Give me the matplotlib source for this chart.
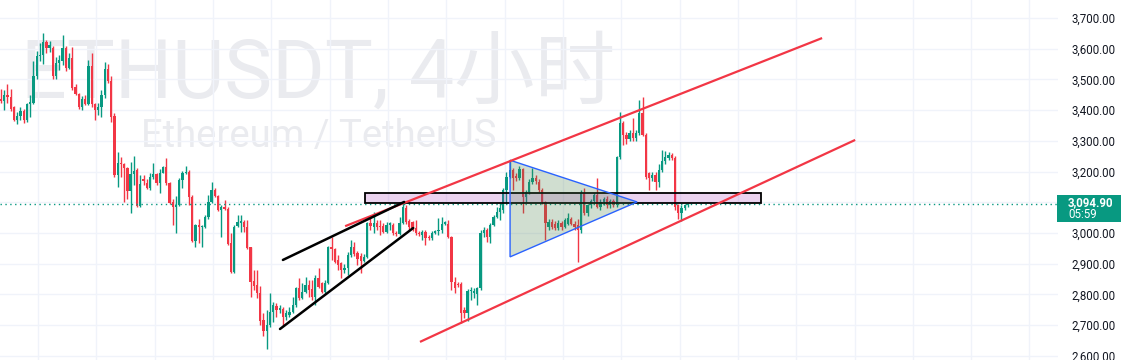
import numpy as np
import matplotlib
matplotlib.use("Agg")
import matplotlib.pyplot as plt
from matplotlib.patches import Rectangle, Polygon

# ETHUSDT 4h candles (open / high / low / close)
opens = [
    3438, 3430, 3449, 3443, 3410, 3368, 3382, 3398, 3368, 3420,
    3423, 3511, 3576, 3580, 3621, 3604, 3604, 3511, 3553, 3561,
    3602, 3536, 3569, 3476, 3452, 3411, 3436, 3420, 3544, 3420,
    3400, 3409, 3449, 3533, 3496, 3381, 3189, 3227, 3224, 3211,
    3138, 3192, 3205, 3088, 3175, 3164, 3145, 3183, 3192, 3162,
    3196, 3214, 3162, 3102, 3085, 3092, 3172, 3196, 3200, 3118,
    2975, 3026, 3018, 3018, 3051, 3102, 3140, 3120, 3075, 3085,
    3078, 2967, 2873, 3022, 3033, 3036, 3020, 2954, 2843, 2830,
    2804, 2716, 2680, 2700, 2742, 2762, 2749, 2752, 2726, 2733,
    2742, 2765, 2820, 2788, 2808, 2830, 2816, 2791, 2853, 2837,
    2808, 2837, 2954, 2948, 2912, 2902, 2879, 2885, 2928, 2955,
    2935, 2925, 2908, 2921, 3031, 3020, 3033, 3022, 3022, 3004,
    3026, 3026, 3001, 2996, 3031, 3080, 3040, 3036, 3015, 3001,
    2993, 3004, 2988, 2983, 3001, 3005, 3010, 3030, 3029, 2987,
    2840, 2835, 2835, 2749, 2738, 2810, 2805, 2800, 2820, 2999,
    3008, 2986, 3026, 3052, 3068, 3075, 3140, 3182, 3205, 3185,
    3178, 3208, 3116, 3134, 3166, 3179, 3166, 3140, 3101, 3020,
    3036, 3030, 3015, 3033, 3020, 3030, 3045, 3030, 3025, 3010,
    3130, 3065, 3090, 3105, 3125, 3085, 3100, 3112, 3090, 3105,
    3092, 3247, 3358, 3319, 3305, 3325, 3310, 3325, 3390, 3320,
    3195, 3178, 3190, 3165, 3205, 3235, 3245, 3255, 3245, 3090,
    3065, 3080, 3090,
]
highs = [
    3468, 3465, 3485, 3468, 3412, 3395, 3409, 3405, 3423, 3449,
    3561, 3594, 3618, 3653, 3628, 3625, 3610, 3573, 3579, 3646,
    3610, 3585, 3607, 3485, 3455, 3446, 3449, 3565, 3585, 3422,
    3422, 3465, 3558, 3550, 3510, 3390, 3265, 3248, 3227, 3214,
    3232, 3250, 3210, 3189, 3189, 3176, 3195, 3227, 3195, 3207,
    3218, 3243, 3165, 3110, 3120, 3178, 3203, 3218, 3205, 3122,
    3029, 3044, 3026, 3060, 3124, 3167, 3145, 3124, 3092, 3107,
    3085, 3000, 3026, 3058, 3058, 3042, 3042, 2955, 2879, 2879,
    2827, 2738, 2749, 2803, 2776, 2771, 2765, 2760, 2749, 2760,
    2792, 2825, 2852, 2836, 2857, 2847, 2847, 2863, 2885, 2841,
    2847, 2958, 2988, 2950, 2928, 2905, 2900, 2939, 2977, 2971,
    2940, 2935, 2930, 3036, 3053, 3069, 3042, 3042, 3033, 3036,
    3036, 3033, 3005, 3053, 3102, 3090, 3045, 3040, 3042, 3005,
    3010, 3010, 2992, 3005, 3010, 3048, 3051, 3040, 3042, 2990,
    2855, 2840, 2841, 2760, 2818, 2824, 2820, 2824, 3010, 3020,
    3016, 3033, 3058, 3085, 3097, 3145, 3199, 3237, 3211, 3195,
    3218, 3212, 3140, 3175, 3211, 3190, 3175, 3145, 3105, 3045,
    3045, 3040, 3042, 3040, 3050, 3065, 3052, 3040, 3045, 3140,
    3145, 3095, 3112, 3130, 3180, 3110, 3118, 3120, 3112, 3110,
    3250, 3394, 3365, 3330, 3335, 3374, 3335, 3433, 3443, 3325,
    3200, 3200, 3198, 3225, 3270, 3268, 3265, 3262, 3250, 3095,
    3090, 3095, 3098,
]
lows = [
    3425, 3400, 3423, 3398, 3366, 3354, 3368, 3358, 3362, 3378,
    3420, 3500, 3561, 3552, 3585, 3590, 3500, 3502, 3531, 3547,
    3528, 3534, 3465, 3448, 3403, 3400, 3417, 3417, 3409, 3368,
    3384, 3377, 3440, 3490, 3362, 3183, 3150, 3183, 3102, 3110,
    3066, 3156, 3085, 3083, 3156, 3142, 3140, 3175, 3156, 3129,
    3194, 3156, 3094, 3026, 3001, 3088, 3145, 3192, 3091, 2971,
    2955, 2966, 2955, 3015, 3045, 3098, 3117, 3070, 2988, 3075,
    2961, 2869, 2868, 3020, 3004, 3004, 2947, 2792, 2814, 2787,
    2700, 2664, 2621, 2695, 2711, 2727, 2740, 2697, 2716, 2727,
    2738, 2760, 2782, 2784, 2805, 2792, 2782, 2765, 2820, 2804,
    2804, 2834, 2912, 2901, 2879, 2852, 2870, 2863, 2920, 2925,
    2895, 2870, 2905, 2918, 3010, 2999, 3010, 2993, 2999, 2999,
    3010, 2993, 2990, 2993, 3028, 3030, 3010, 3006, 2993, 2990,
    2977, 2961, 2978, 2977, 2998, 2993, 3000, 3025, 2985, 2815,
    2805, 2825, 2708, 2722, 2712, 2782, 2788, 2765, 2815, 2988,
    2971, 2966, 3023, 3048, 3042, 3064, 3096, 3178, 3140, 3170,
    3172, 3065, 3100, 3128, 3160, 3160, 3135, 3095, 2977, 3010,
    3012, 3010, 3010, 3008, 3015, 3025, 3025, 3010, 2905, 3000,
    3060, 3055, 3080, 3098, 3080, 3075, 3090, 3080, 3082, 3085,
    3085, 3240, 3286, 3290, 3298, 3300, 3300, 3318, 3315, 3175,
    3140, 3170, 3140, 3150, 3198, 3225, 3238, 3238, 3075, 3045,
    3040, 3075, 3085,
]
closes = [
    3430, 3449, 3442, 3405, 3368, 3382, 3397, 3368, 3420, 3428,
    3511, 3576, 3580, 3621, 3604, 3612, 3511, 3553, 3563, 3602,
    3536, 3569, 3473, 3452, 3411, 3436, 3420, 3544, 3420, 3400,
    3409, 3449, 3533, 3496, 3378, 3189, 3227, 3224, 3211, 3138,
    3192, 3203, 3088, 3158, 3170, 3145, 3183, 3192, 3162, 3196,
    3214, 3162, 3099, 3085, 3092, 3172, 3196, 3200, 3118, 2975,
    3026, 3018, 3020, 3051, 3102, 3140, 3120, 3075, 3085, 3078,
    2964, 2873, 3020, 3036, 3038, 3020, 2951, 2840, 2827, 2804,
    2713, 2680, 2700, 2742, 2765, 2749, 2755, 2726, 2740, 2744,
    2765, 2820, 2788, 2808, 2830, 2814, 2791, 2853, 2824, 2808,
    2837, 2954, 2948, 2905, 2896, 2879, 2886, 2928, 2955, 2930,
    2915, 2908, 2921, 3031, 3022, 3031, 3020, 3018, 3004, 3026,
    3031, 2999, 2996, 3031, 3085, 3035, 3020, 3010, 2999, 2995,
    3004, 2983, 2983, 3001, 3006, 3008, 3029, 3036, 2987, 2840,
    2822, 2830, 2738, 2738, 2810, 2815, 2812, 2820, 2999, 3008,
    2986, 3026, 3052, 3068, 3081, 3140, 3182, 3205, 3179, 3178,
    3208, 3116, 3134, 3166, 3179, 3170, 3140, 3101, 3033, 3036,
    3020, 3015, 3033, 3020, 3042, 3050, 3030, 3018, 3010, 3130,
    3065, 3090, 3105, 3125, 3085, 3100, 3112, 3090, 3105, 3092,
    3247, 3358, 3319, 3305, 3325, 3310, 3325, 3390, 3320, 3182,
    3178, 3190, 3165, 3205, 3235, 3248, 3255, 3245, 3085, 3065,
    3080, 3090, 3095,
]
last_price = 3094.90
countdown = "05:59"
price_ticks = [2600, 2700, 2800, 2900, 3000, 3100, 3200, 3300, 3400, 3500, 3600, 3700]

# drawing anchors (bar index, price)
channel_top = [(106.2, 3022), (253.4, 3635)]
channel_bottom = [(129.3, 2645), (263.6, 3303)]
wedge_top = [(87.0, 2912), (124.4, 3101)]
wedge_bottom = [(86.1, 2687), (127.2, 3016)]
zone = (112.3, 234.6, 3097, 3130)
triangle = [(157.1, 3237), (157.1, 2922), (196.3, 3101)]

UP = "#089981"
DOWN = "#f23645"

fig = plt.figure(figsize=(11.23, 3.6), dpi=100)
fig.patch.set_facecolor("white")
W, H = 1123, 360
ax = fig.add_axes([0, 0, 1058 / W, 1])
ax.set_facecolor("none")

# watermark
fig.text(21 / W, 1 - 98 / H, "ETHUSDT, 4小时", fontsize=58, color="#eaebef",
         family=["Roboto", "Noto Sans CJK SC", "DejaVu Sans"],
         va="baseline", zorder=-1)
fig.text(141 / W, 1 - 147 / H, "Ethereum / TetherUS", fontsize=27.5, color="#eaebef",
         family=["Roboto", "DejaVu Sans"], va="baseline", zorder=-1)

o = np.array(opens, float)
h = np.array(highs, float)
l = np.array(lows, float)
c = np.array(closes, float)
x = np.arange(len(c))
col = np.where(c >= o, UP, DOWN)

ax.vlines(x, l, h, colors=col, lw=1, zorder=3)
body = np.maximum(np.abs(c - o), 3)
ax.bar(x, body, bottom=np.minimum(o, c), width=0.7, color=col, zorder=4, linewidth=0)

# drawings
ax.add_patch(Rectangle((zone[0], zone[2]), zone[1] - zone[0], zone[3] - zone[2],
                       facecolor=(156 / 255, 39 / 255, 176 / 255, 0.2),
                       edgecolor="black", lw=1.3, zorder=6))
ax.add_patch(Polygon(triangle, closed=True, facecolor=(71 / 255, 127 / 255, 71 / 255, 0.25),
                     edgecolor="#2962ff", lw=1, zorder=6))
for seg in (channel_top, channel_bottom):
    ax.plot([p[0] for p in seg], [p[1] for p in seg], color=DOWN, lw=1.6, zorder=7,
            solid_capstyle="butt")
for seg in (wedge_top, wedge_bottom):
    ax.plot([p[0] for p in seg], [p[1] for p in seg], color="black", lw=1.8, zorder=7,
            solid_capstyle="round")

ax.axhline(last_price, color=UP, lw=1, ls=(0, (1, 2.5)), zorder=5)

ax.set_xlim(-0.31, 326.2)
ax.set_ylim(2586, 3759)
ax.set_xticks(np.arange(11.4, 326, 18))
ax.set_yticks(price_ticks)
ax.set_yticklabels(["" if t == 3100 else f"{t:,.2f}" for t in price_ticks])
ax.yaxis.tick_right()
ax.tick_params(axis="y", length=0, pad=10, labelsize=8.3, labelcolor="#131722")
ax.tick_params(axis="x", length=0, labelbottom=False)
for lab in ax.get_yticklabels():
    lab.set_family("Roboto")
ax.grid(True, color="#f0f3fa", lw=1)
ax.set_axisbelow(True)
for s in ax.spines.values():
    s.set_visible(False)

# last price tag on the scale
fig.patches.append(Rectangle((1057 / W, 1 - 222 / H), 64 / W, 27 / H,
                             transform=fig.transFigure, facecolor=UP, edgecolor="none",
                             zorder=5))
fig.text(1068 / W, 1 - 203 / H, f"{last_price:,.2f}", color="white", fontsize=8.3,
         fontweight="bold", family="Roboto", va="center", zorder=6)
fig.text(1068 / W, 1 - 215 / H, countdown, color="white", fontsize=8.3,
         family="Roboto", va="center", zorder=6)

fig.savefig("out.png", dpi=100)
